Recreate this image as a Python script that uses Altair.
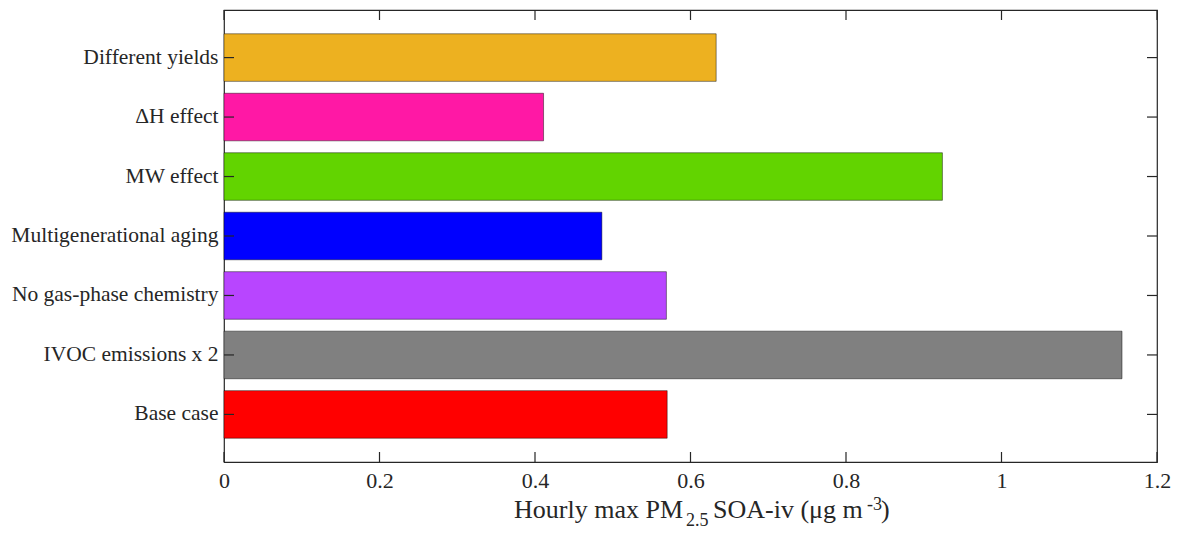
import altair as alt
import pandas as pd

categories = ["Different yields", "ΔH effect", "MW effect", "Multigenerational aging",
              "No gas-phase chemistry", "IVOC emissions x 2", "Base case"]
values = [0.633, 0.411, 0.924, 0.486, 0.569, 1.155, 0.570]
colors = ["#EDB120", "#FF18A5", "#62D400", "#0000FF", "#B845FF", "#808080", "#FF0000"]
x_ticks = [0, 0.2, 0.4, 0.6, 0.8, 1.0, 1.2]

FONT = "Liberation Serif"
W, H = 933, 452
AX = "#262626"

df = pd.DataFrame({"cat": categories, "v": values})
tick_df = pd.DataFrame({"t": x_ticks})
cat_df = pd.DataFrame({"cat": categories})

xscale = alt.Scale(domain=[0, 1.2], nice=False, zero=True)
yscale = alt.Scale(domain=categories, paddingInner=0.2, paddingOuter=0.4)

bars = alt.Chart(df).mark_bar(stroke="black", strokeWidth=0.6, strokeOpacity=0.75).encode(
    x=alt.X("v:Q", scale=xscale,
            axis=alt.Axis(values=x_ticks, format="~g", domain=False, ticks=False, grid=False,
                          labelFont=FONT, labelFontSize=22, labelColor=AX,
                          labelPadding=8, labelFlush=False, labelOverlap=False, title=None)),
    y=alt.Y("cat:N", scale=yscale, sort=categories,
            axis=alt.Axis(domain=False, ticks=False, grid=False, labelFont=FONT,
                          labelFontSize=21.5, labelColor=AX, labelPadding=6,
                          labelLimit=400, title=None)),
    color=alt.Color("cat:N", scale=alt.Scale(domain=categories, range=colors), legend=None),
)

tick_style = dict(color=AX, strokeWidth=1.2)
xt_bottom = alt.Chart(tick_df).mark_rule(**tick_style).encode(
    x=alt.X("t:Q", scale=xscale), y=alt.value(H - 10), y2=alt.value(H))
xt_top = alt.Chart(tick_df).mark_rule(**tick_style).encode(
    x=alt.X("t:Q", scale=xscale), y=alt.value(0), y2=alt.value(10))
yt_left = alt.Chart(cat_df).mark_rule(**tick_style).encode(
    y=alt.Y("cat:N", scale=yscale, sort=categories, bandPosition=0.5),
    x=alt.value(0), x2=alt.value(10))
yt_right = alt.Chart(cat_df).mark_rule(**tick_style).encode(
    y=alt.Y("cat:N", scale=yscale, sort=categories, bandPosition=0.5),
    x=alt.value(W - 10), x2=alt.value(W))

def piece(text, xpos, ypos, size):
    return alt.Chart(pd.DataFrame({"txt": [text]})).mark_text(
        font=FONT, fontSize=size, color=AX, align="left", baseline="alphabetic"
    ).encode(text="txt:N", x=alt.value(xpos), y=alt.value(ypos))

title = (piece("Hourly max PM", 290, 508, 26) + piece("2.5", 462, 516, 18) +
         piece("SOA-iv (μg m", 489, 508, 26) + piece("-3", 643, 500, 18) +
         piece(")", 657, 508, 26))

chart = alt.layer(bars, xt_bottom, xt_top, yt_left, yt_right, title).properties(
    width=W, height=H,
    background="white",
    autosize=alt.AutoSizeParams(type="none"),
    padding={"left": 216, "top": 2, "right": 16, "bottom": 68},
).configure_view(stroke=AX, strokeWidth=1.2)

chart.save("out.html", embed_options={"renderer": "svg", "actions": False})
